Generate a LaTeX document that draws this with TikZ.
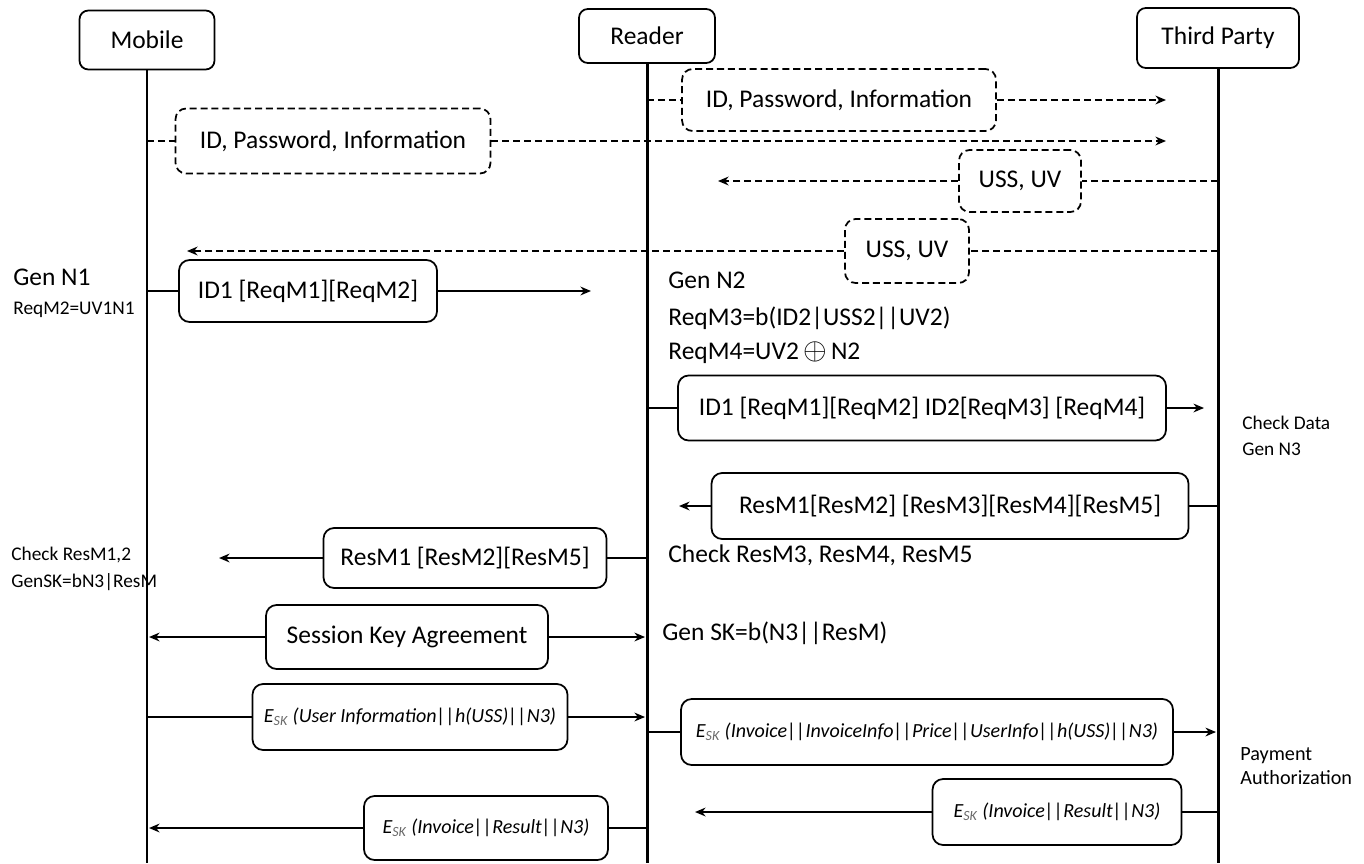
\documentclass[tikz,border=0pt]{standalone}
\usepackage{fontspec}
\setmainfont{Carlito}
\usetikzlibrary{arrows.meta, positioning}
\definecolor{subgray}{RGB}{105,105,105}
\newcommand{\skenc}{E\textsubscript{\textcolor{subgray}{SK}}}

\begin{document}
\begin{tikzpicture}[
    x=0.02cm, y=-0.02cm,
    party/.style={rectangle, draw, rounded corners=5pt, line width=1pt, font=\fontsize{14.5}{17}\selectfont},
    msg/.style={rectangle, draw, rounded corners=6pt, line width=1pt, fill=white, inner sep=0pt, font=\fontsize{14.5}{17}\selectfont},
    dmsg/.style={msg, dash pattern=on 4pt off 2.2pt},
    emsg/.style={msg, font=\fontsize{11.4}{14}\selectfont\itshape},
    life/.style={line width=1.7pt},
    wire/.style={line width=1pt},
    dwire/.style={wire, dash pattern=on 4pt off 2.2pt},
    arrow/.style={-{Stealth[length=6pt, width=5pt]}, line width=1pt},
    darrow/.style={arrow, dash pattern=on 4pt off 2.2pt},
    note/.style={anchor=west, inner sep=0pt, font=\fontsize{14.5}{17}\selectfont},
    smallnote/.style={anchor=west, inner sep=0pt, font=\fontsize{11}{13}\selectfont}
]
    \useasboundingbox (0,0) rectangle (1364,863);

    % Parties and lifelines
    \node[party, minimum width=2.7cm, minimum height=1.18cm] (mobile) at (147, 40) {Mobile};
    \node[party, minimum width=2.72cm, minimum height=1.08cm] (reader) at (647, 36) {Reader};
    \node[party, minimum width=3.24cm, minimum height=1.2cm] (third) at (1218, 38) {Third Party};

    \coordinate (mobend) at (147, 863);
    \coordinate (readend) at (647, 863);
    \coordinate (thirdend) at (1218, 863);
    \draw[life] (mobile.south) -- (mobend);
    \draw[life] (reader.south) -- (readend);
    \draw[life] (third.south) -- (thirdend);

    % Registration
    \node[dmsg, minimum width=6.28cm, minimum height=1.24cm] (regr) at (839, 100) {ID, Password, Information};
    \coordinate (regr0) at (647, 100);
    \coordinate (regr1) at (1166, 100);
    \draw[dwire] (regr0) -- (regr.west);
    \draw[darrow] (regr.east) -- (regr1);

    \node[dmsg, minimum width=6.3cm, minimum height=1.3cm] (regm) at (333, 141) {ID, Password, Information};
    \coordinate (regm0) at (147, 141);
    \coordinate (regm1) at (1166, 141);
    \draw[dwire] (regm0) -- (regm.west);
    \draw[darrow] (regm.east) -- (regm1);

    \node[dmsg, minimum width=2.44cm, minimum height=1.24cm] (ussr) at (1020, 181) {USS, UV};
    \coordinate (ussr0) at (1218, 181);
    \coordinate (ussr1) at (718, 181);
    \draw[dwire] (ussr0) -- (ussr.east);
    \draw[darrow] (ussr.west) -- (ussr1);

    \node[dmsg, minimum width=2.48cm, minimum height=1.28cm] (ussm) at (907, 251) {USS, UV};
    \coordinate (ussm0) at (1218, 251);
    \coordinate (ussm1) at (187, 251);
    \draw[dwire] (ussm0) -- (ussm.east);
    \draw[darrow] (ussm.west) -- (ussm1);

    % Request
    \node[note] (gen1) at (13, 277) {Gen N1};
    \node[smallnote] (reqm2) at (13, 310) {ReqM2=UV1N1};

    \node[msg, minimum width=5.16cm, minimum height=1.24cm] (req1) at (308, 291) {ID1 [ReqM1][ReqM2]};
    \coordinate (req10) at (147, 291);
    \coordinate (req11) at (591, 291);
    \draw[wire] (req10) -- (req1.west);
    \draw[arrow] (req1.east) -- (req11);

    \node[note] (gen2) at (668, 280) {Gen N2};
    \node[note] (reqm3) at (668, 318) {ReqM3=b(ID2|USS2||UV2)};
    \node[note] (reqm4) at (668, 353) {ReqM4=UV2\,{\fontsize{18}{18}\selectfont$\oplus$}\,N2};

    \node[msg, minimum width=9.76cm, minimum height=1.3cm] (req2) at (922, 408) {ID1 [ReqM1][ReqM2] ID2[ReqM3] [ReqM4]};
    \coordinate (req20) at (647, 408);
    \coordinate (req21) at (1204, 408);
    \draw[wire] (req20) -- (req2.west);
    \draw[arrow] (req2.east) -- (req21);

    \node[smallnote] (chkdata) at (1242, 423) {Check Data};
    \node[smallnote] (gen3) at (1242, 449) {Gen N3};

    % Response
    \node[msg, minimum width=9.54cm, minimum height=1.32cm] (res1) at (950, 506) {ResM1[ResM2] [ResM3][ResM4][ResM5]};
    \coordinate (res10) at (1218, 506);
    \coordinate (res11) at (679, 506);
    \draw[wire] (res10) -- (res1.east);
    \draw[arrow] (res1.west) -- (res11);

    \node[note] (chkr) at (668, 555) {Check ResM3, ResM4, ResM5};

    \node[msg, minimum width=5.66cm, minimum height=1.2cm] (res2) at (465, 558) {ResM1 [ResM2][ResM5]};
    \coordinate (res20) at (647, 558);
    \coordinate (res21) at (219, 558);
    \draw[wire] (res20) -- (res2.east);
    \draw[arrow] (res2.west) -- (res21);

    \node[smallnote] (chkm) at (11, 555) {Check ResM1,2};
    \node[smallnote] (genskm) at (11, 582) {GenSK=bN3|ResM};

    % Session key
    \node[msg, minimum width=5.64cm, minimum height=1.28cm] (ska) at (407, 637) {Session Key Agreement};
    \coordinate (ska0) at (149, 637);
    \coordinate (ska1) at (645, 637);
    \draw[arrow] (ska.west) -- (ska0);
    \draw[arrow] (ska.east) -- (ska1);

    \node[note] (genskr) at (662, 633) {Gen SK=b(N3||ResM)};

    % Payment
    \node[emsg, minimum width=6.3cm, minimum height=1.32cm] (pay1) at (410, 717) {\skenc{} (User Information||h(USS)||N3)};
    \coordinate (pay10) at (147, 717);
    \coordinate (pay11) at (645, 717);
    \draw[wire] (pay10) -- (pay1.west);
    \draw[arrow] (pay1.east) -- (pay11);

    \node[emsg, minimum width=9.84cm, minimum height=1.32cm] (pay2) at (927, 732) {\skenc{} (Invoice||InvoiceInfo||Price||UserInfo||h(USS)||N3)};
    \coordinate (pay20) at (647, 732);
    \coordinate (pay21) at (1216, 732);
    \draw[wire] (pay20) -- (pay2.west);
    \draw[arrow] (pay2.east) -- (pay21);

    \node[smallnote, align=left, font=\fontsize{11.5}{14}\selectfont] (auth) at (1240, 766) {Payment\\Authorization};

    \node[emsg, minimum width=4.98cm, minimum height=1.32cm] (pay3) at (1057, 812) {\skenc{} (Invoice||Result||N3)};
    \coordinate (pay30) at (1218, 812);
    \coordinate (pay31) at (695, 812);
    \draw[wire] (pay30) -- (pay3.east);
    \draw[arrow] (pay3.west) -- (pay31);

    \node[emsg, minimum width=4.88cm, minimum height=1.28cm] (pay4) at (486, 828) {\skenc{} (Invoice||Result||N3)};
    \coordinate (pay40) at (647, 828);
    \coordinate (pay41) at (149, 828);
    \draw[wire] (pay40) -- (pay4.east);
    \draw[arrow] (pay4.west) -- (pay41);

\end{tikzpicture}
\end{document}
